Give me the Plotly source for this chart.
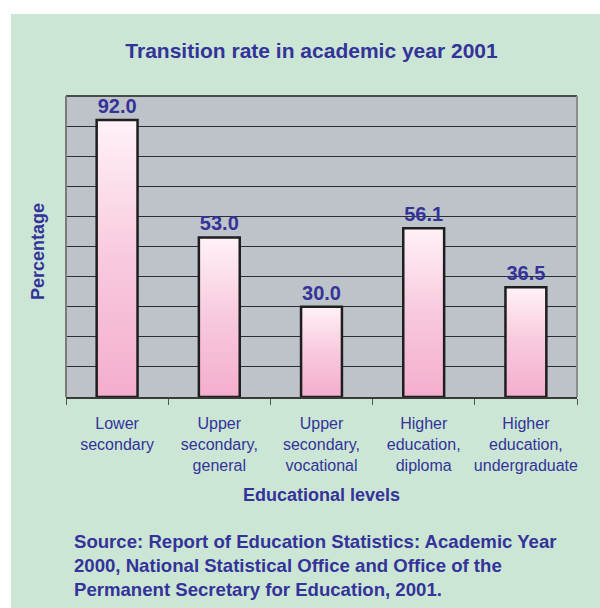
import plotly.graph_objects as go

# ---- data ----
categories = ["Lower<br>secondary", "Upper<br>secondary,<br>general",
              "Upper<br>secondary,<br>vocational", "Higher<br>education,<br>diploma",
              "Higher<br>education,<br>undergraduate"]
values = [92.0, 53.0, 30.0, 56.1, 36.5]
title_text = "Transition rate in academic year 2001"
x_title = "Educational levels"
y_title = "Percentage"
source_text = ("Source: Report of Education Statistics: Academic Year<br>"
               "2000, National Statistical Office and Office of the<br>"
               "Permanent Secretary for Education, 2001.")

# ---- layout geometry (pixels) ----
W, H = 600, 608
L, R, T, B = 66, 577, 96, 397
NAVY = "#333399"
GREEN = "#cce6d5"
FONT = "Liberation Sans, Arial, sans-serif"
BAR_W = 0.4


def px2x(px):
    return (px - L) / (R - L)


def px2y(py):
    return (B - py) / (B - T)


fig = go.Figure()

# value labels (bar trace with invisible marker; drawn beneath the scatter layer)
fig.add_trace(go.Bar(
    x=list(range(len(values))), y=values, width=BAR_W,
    marker=dict(color="rgba(0,0,0,0)", line=dict(width=0)),
    text=[f"{v:.1f}" for v in values], textposition="outside",
    textfont=dict(family=FONT, size=20, color=NAVY, weight="bold"),
    cliponaxis=False, showlegend=False, hoverinfo="skip"))

# gradient-filled bars with dark outline (one closed polygon per bar built from the data)
for i, v in enumerate(values):
    x0, x1 = i - BAR_W / 2, i + BAR_W / 2
    fig.add_trace(go.Scatter(
        x=[x0, x1, x1, x0, x0], y=[0, 0, v, v, 0],
        mode="lines", fill="toself", line=dict(width=2.5, color="#1e1e1e"),
        fillgradient=dict(type="vertical",
                          colorscale=[[0, "#f4aecd"], [0.5, "#f8c9de"], [1, "#fff1f8"]]),
        hovertemplate=f"{v:.1f}<extra></extra>", showlegend=False))

shapes = [
    # white page strips around the green panel
    dict(type="rect", xref="paper", yref="paper", x0=px2x(0), x1=px2x(W),
         y0=px2y(14), y1=px2y(0), fillcolor="white", line=dict(width=0), layer="below"),
    dict(type="rect", xref="paper", yref="paper", x0=px2x(0), x1=px2x(11),
         y0=px2y(H), y1=px2y(0), fillcolor="white", line=dict(width=0), layer="below"),
    # plot frame
    dict(type="line", xref="paper", yref="paper", x0=0, x1=1, y0=1, y1=1,
         line=dict(color="#4a4a4a", width=2)),
    dict(type="line", xref="paper", yref="paper", x0=0, x1=0, y0=0, y1=1,
         line=dict(color="#7a7a7a", width=2)),
    dict(type="line", xref="paper", yref="paper", x0=1, x1=1, y0=0, y1=1,
         line=dict(color="#8c8c8c", width=2)),
]

annotations = [
    dict(text=x_title, xref="paper", yref="paper", x=0.5, y=px2y(495),
         xanchor="center", yanchor="middle", showarrow=False,
         font=dict(family=FONT, size=18, color=NAVY, weight="bold")),
    dict(text=y_title, xref="paper", yref="paper", x=px2x(38), y=px2y(252),
         xanchor="center", yanchor="middle", textangle=-90, showarrow=False,
         font=dict(family=FONT, size=18, color=NAVY, weight="bold")),
    dict(text=source_text, xref="paper", yref="paper", x=px2x(72), y=px2y(529),
         xanchor="left", yanchor="top", align="left", showarrow=False,
         font=dict(family=FONT, size=18.6, color=NAVY, weight="bold")),
]

fig.update_layout(
    width=W, height=H,
    margin=dict(l=L, r=W - R, t=T, b=H - B, autoexpand=False),
    paper_bgcolor=GREEN, plot_bgcolor="#bec3ca",
    title=dict(text=title_text, xref="container", yref="container",
               x=311.5 / W, y=1 - 51 / H, xanchor="center", yanchor="middle",
               font=dict(family=FONT, size=21, color=NAVY, weight="bold")),
    xaxis=dict(range=[-0.5, len(values) - 0.5], tickmode="array",
               tickvals=list(range(len(values))), ticktext=categories,
               ticks="", showgrid=False, zeroline=False, ticklabelstandoff=11,
               showline=True, linecolor="#3a3a3a", linewidth=2,
               tickfont=dict(family=FONT, size=16, color=NAVY),
               minor=dict(tickmode="linear", tick0=-0.5, dtick=1, ticks="outside",
                          ticklen=6, tickwidth=1, tickcolor="#555555", showgrid=False)),
    yaxis=dict(range=[0, 100], dtick=10, showticklabels=False, ticks="",
               showgrid=True, gridcolor="#2e2e2e", gridwidth=1, zeroline=False),
    shapes=shapes, annotations=annotations,
    bargap=0.6,
)

fig.write_html("out.html")
